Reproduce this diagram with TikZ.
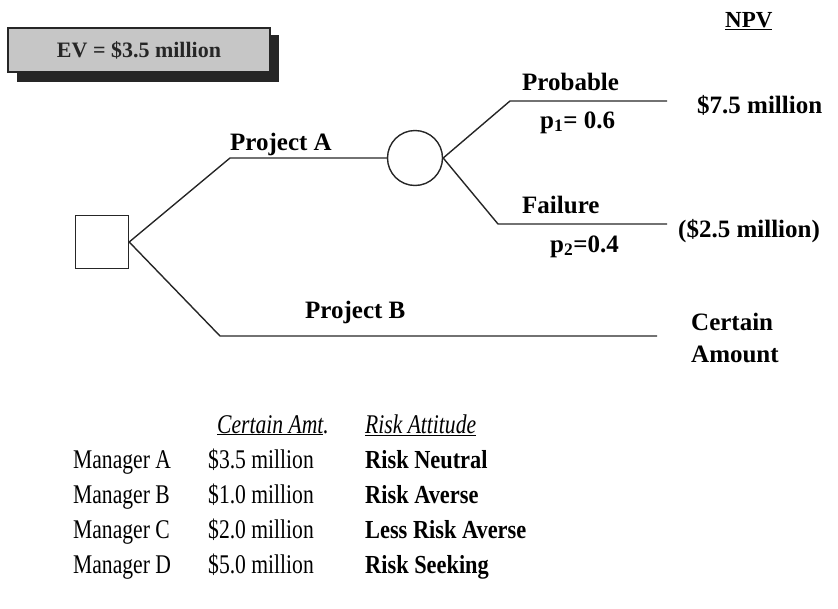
\documentclass[tikz,border=0pt]{standalone}
\usepackage{fontspec}
\setmainfont{Liberation Serif}
\newfontfamily\condfont[FakeStretch=0.8]{Liberation Serif}
\newfontfamily\condbfont[FakeStretch=0.86]{Liberation Serif}
\begin{document}
\begin{tikzpicture}[x=1pt,y=-1pt,
  conn/.style={line width=1.4pt, black!85},
  lbl/.style={anchor=base west, inner sep=0pt, font=\fontsize{25}{30}\selectfont\bfseries},
  cell/.style={anchor=base west, inner sep=0pt, font=\condfont\fontsize{27}{32}\selectfont},
  cellb/.style={anchor=base west, inner sep=0pt, font=\condbfont\fontsize{26}{32}\selectfont\bfseries},
]
\useasboundingbox (0,0) rectangle (838,608);

% EV box with shadow
\fill[black!85] (17,35) rectangle (279,82);
\node[draw=black!85, line width=1.4pt, fill=gray!45, minimum width=262pt, minimum height=44pt, inner sep=0pt,
  font=\fontsize{22}{26}\selectfont\bfseries, text=black!85] (ev) at (139,50) {EV = \$3.5 million};

% NPV heading
\node[lbl, font=\fontsize{23}{28}\selectfont\bfseries] (npv) at (725,27) {\underline{NPV}};

% tree nodes
\node[draw=black!85, line width=1.4pt, minimum size=53pt, inner sep=0pt] (dec) at (102,242) {};
\node[draw=black!85, line width=1.4pt, circle, minimum size=55pt, inner sep=0pt] (chance) at (415,158) {};
\coordinate (a1) at (230,158);
\coordinate (b1) at (220,336);
\coordinate (b2) at (657,336);
\coordinate (p1) at (510,101);
\coordinate (p2) at (667,101);
\coordinate (f1) at (498,224);
\coordinate (f2) at (667,224);

\draw[conn] (dec.east) -- (a1) -- (chance.west);
\draw[conn] (dec.east) -- (b1) -- (b2);
\draw[conn] (chance.east) -- (p1) -- (p2);
\draw[conn] (chance.east) -- (f1) -- (f2);

% branch labels
\node[lbl] (lA) at (230,150) {Project A};
\node[lbl] (lB) at (305,318) {Project B};
\node[lbl] (lP) at (522,90) {Probable};
\node[lbl] (lp1) at (540,128) {p\textsubscript{1}= 0.6};
\node[lbl] (lF) at (522,213) {Failure};
\node[lbl] (lp2) at (550,252) {p\textsubscript{2}=0.4};
\node[lbl] (v1) at (697,113) {\$7.5 million};
\node[lbl] (v2) at (678,237) {(\$2.5 million)};
\node[lbl] (c1) at (691,330) {Certain};
\node[lbl] (c2) at (691,362) {Amount};

% table
\node[cell] (h2) at (217,433) {\itshape\underline{Certain Amt}.};
\node[cell] (h3) at (365,433) {\itshape\underline{Risk Attitude}};

\node[cell] (m1) at (73,468) {Manager A};
\node[cell] (m2) at (73,503) {Manager B};
\node[cell] (m3) at (73,538) {Manager C};
\node[cell] (m4) at (73,573) {Manager D};

\node[cell] (a1t) at (208,468) {\$3.5 million};
\node[cell] (a2t) at (208,503) {\$1.0 million};
\node[cell] (a3t) at (208,538) {\$2.0 million};
\node[cell] (a4t) at (208,573) {\$5.0 million};

\node[cellb] (r1) at (365,468) {Risk Neutral};
\node[cellb] (r2) at (365,503) {Risk Averse};
\node[cellb] (r3) at (365,538) {Less Risk Averse};
\node[cellb] (r4) at (365,573) {Risk Seeking};
\end{tikzpicture}
\end{document}
